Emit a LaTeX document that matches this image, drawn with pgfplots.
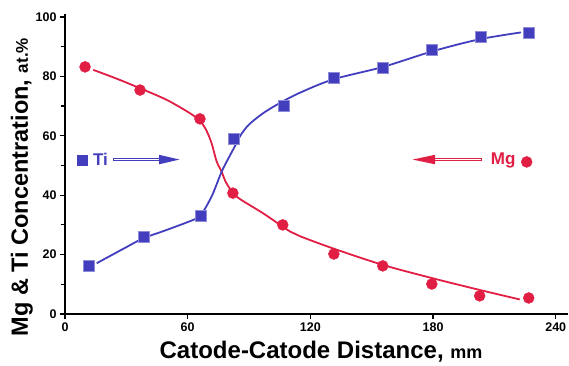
\documentclass[border=0pt]{standalone}
\usepackage{pgfplots}
\pgfplotsset{compat=1.18}
\usepackage{fontspec}
\setmainfont{Liberation Sans}
\usetikzlibrary{arrows.meta}
\definecolor{mgred}{RGB}{225,30,68}
\definecolor{tiblue}{RGB}{66,62,190}
\begin{document}
\begin{tikzpicture}
\begin{axis}[
  scale only axis, width=503pt, height=300pt,
  xmin=0, xmax=246, ymin=0, ymax=101,
  axis lines=left, axis line style={-, line width=1.6pt},
  xtick={0,60,120,180,240}, ytick={0,20,40,60,80,100},
  minor ytick={10,30,50,70,90},
  tick align=outside, major tick length=5pt, minor tick length=4pt,
  tick style={line width=1.2pt, black},
  /pgf/number format/assume math mode=true,
  ticklabel style={font=\bfseries\fontsize{12.5}{12.5}\selectfont},
  xlabel={\fontsize{24}{24}\selectfont\bfseries Catode-Catode Distance, {\fontsize{18}{18}\selectfont mm}},
  ylabel={\fontsize{23.5}{23.5}\selectfont\bfseries Mg \& Ti Concentration, {\fontsize{17}{17}\selectfont at.\%}},
  xlabel style={at={(axis description cs:0.509,-0.148)}, anchor=base},
  ylabel style={at={(axis description cs:-0.086,0.4226)}, anchor=center},
  clip=false,
]
% fitted curves
\addplot[mgred, line width=1.8pt, smooth, tension=0.5] coordinates {
(13.8,82.2)(25,79.3)(36.7,76)(49.7,72.1)(61.1,67.6)(66,65)(69,62)(71.7,57.5)(74.1,51.5)(76.6,47.9)(79,44)(84,39.5)(96.9,33.9)(110,27.8)(114.9,26.2)(131,22.1)(155.6,16.5)(180,12)(202.8,8.1)(222.4,4.9)};
\addplot[tiblue, line width=1.8pt, smooth, tension=0.5] coordinates {
(15.5,17.1)(30,22.5)(38.3,25.5)(49.7,28.3)(64.4,32.2)(67.6,34.5)(72,40)(76.6,47.9)(80,52.5)(83.1,56.5)(86,60.3)(90,63.8)(96.9,67.6)(105,71)(114.9,74.5)(131.2,79)(155.6,83.2)(180,88.5)(202.8,92.5)(223,94.8)};
% data points
\addplot[only marks, mark=square*, mark size=5.5pt, tiblue, mark options={draw=tiblue!60!white, line width=0.4pt}] coordinates {
(11.7,16.2)(38.6,25.9)(66.5,33)(82.6,58.9)(107,70)(131.5,79.5)(155.4,82.8)(179.4,88.9)(203.3,93.3)(226.8,94.6)};
\addplot[only marks, mark=*, mark size=5.5pt, mgred, mark options={draw=mgred}] coordinates {
(9.8,83.2)(36.7,75.4)(66,65.7)(82.1,40.7)(106.5,30)(131.5,20.2)(155.4,16.2)(179.4,10.1)(202.8,6.1)(226.8,5.4)};
% legend markers
\addplot[only marks, mark=square*, mark size=5pt, tiblue] coordinates {(8.3,51.9)};
\addplot[only marks, mark=*, mark size=5.5pt, mgred] coordinates {(225.8,51.2)};
\node[tiblue, font=\bfseries\fontsize{17}{17}\selectfont, anchor=west] at (axis cs:12,52) {Ti};
\node[mgred, font=\bfseries\fontsize{17}{17}\selectfont, anchor=east] at (axis cs:222,51.8) {Mg};
% hollow arrows
\draw[tiblue, line width=3.6pt] (axis cs:23.5,52)--(axis cs:47,52);
\draw[white, line width=1.2pt] (axis cs:24,52)--(axis cs:46,52);
\fill[tiblue] (axis cs:46,53.6)--(axis cs:56,52)--(axis cs:46,50.4)--cycle;
\draw[mgred, line width=3.6pt] (axis cs:204,52)--(axis cs:180,52);
\draw[white, line width=1.2pt] (axis cs:203.5,52)--(axis cs:181,52);
\fill[mgred] (axis cs:181,53.6)--(axis cs:170,52)--(axis cs:181,50.4)--cycle;
\end{axis}
\pgfresetboundingbox
\path ([shift={(-65pt,-51pt)}]current axis.south west) rectangle ([shift={(504pt,314pt)}]current axis.south west);
\end{tikzpicture}
\end{document}
